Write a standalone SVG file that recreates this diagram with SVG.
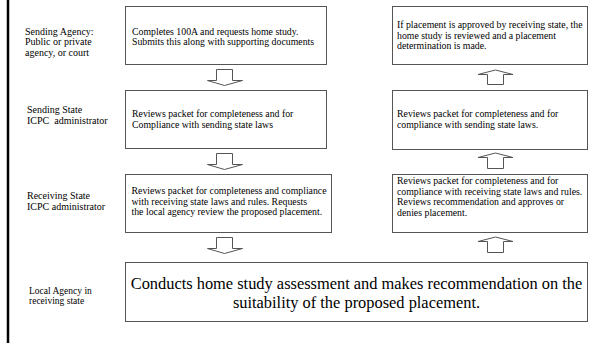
<svg xmlns="http://www.w3.org/2000/svg" width="591" height="343" viewBox="0 0 591 343">
<style>
.box{fill:#fff;stroke:#555;stroke-width:1}
.arr{fill:#fff;stroke:#555;stroke-width:1;stroke-linejoin:miter}
text{font-family:"Liberation Serif","Times New Roman",serif;fill:#000}
.t{font-size:9.8px}
.lb{font-size:10px}
.sm{font-size:9.5px}
.big{font-size:16.4px;text-anchor:middle}
</style>
<rect width="591" height="343" fill="#fff"/>
<line x1="8" y1="0" x2="8" y2="343" stroke="#000" stroke-width="2.5"/>

<g id="labels">
  <text class="lb" x="25" y="34.5">Sending Agency:</text>
  <text class="lb" x="25" y="45">Public or private</text>
  <text class="lb" x="25" y="55.5">agency, or court</text>
  <text class="lb" x="27" y="113">Sending State</text>
  <text class="lb" x="27" y="124" xml:space="preserve">ICPC  administrator</text>
  <text class="lb" x="27" y="199">Receiving State</text>
  <text class="lb" x="27" y="209.5">ICPC administrator</text>
  <text class="sm" x="29" y="293.5">Local Agency in</text>
  <text class="sm" x="29" y="303.5">receiving state</text>
</g>

<g id="n1">
  <rect class="box" x="125.5" y="6.5" width="201" height="58"/>
  <text class="t" x="132" y="34.5">Completes 100A and requests home study.</text>
  <text class="t" x="132" y="45">Submits this along with supporting documents</text>
</g>
<g id="n2">
  <rect class="box" x="125.5" y="90.5" width="201" height="58"/>
  <text class="t" x="132" y="117">Reviews packet for completeness and for</text>
  <text class="t" x="132" y="127.5">Compliance with sending state laws</text>
</g>
<g id="n3">
  <rect class="box" x="125.5" y="174.5" width="206" height="58"/>
  <text class="t" x="131.5" y="194">Reviews packet for completeness and compliance</text>
  <text class="t" x="131.5" y="204.5">with receiving state laws and rules. Requests</text>
  <text class="t" x="131.5" y="215">the local agency review the proposed placement.</text>
</g>
<g id="n4">
  <rect class="box" x="125.5" y="262.5" width="462" height="59"/>
  <text class="big" x="356.5" y="289">Conducts home study assessment and makes recommendation on the</text>
  <text class="big" x="356.5" y="308">suitability of the proposed placement.</text>
</g>
<g id="n5">
  <rect class="box" x="392.5" y="174.5" width="195" height="58"/>
  <text class="t" x="397" y="184">Reviews packet for completeness and for</text>
  <text class="t" x="397" y="194.5">compliance with receiving state laws and rules.</text>
  <text class="t" x="397" y="205">Reviews recommendation and approves or</text>
  <text class="t" x="397" y="215.5">denies placement.</text>
</g>
<g id="n6">
  <rect class="box" x="392.5" y="90.5" width="195" height="59"/>
  <text class="t" x="397" y="117">Reviews packet for completeness and for</text>
  <text class="t" x="397" y="127.5">compliance with sending state laws.</text>
</g>
<g id="n7">
  <rect class="box" x="392.5" y="6.5" width="195" height="58"/>
  <text class="t" x="397" y="28">If placement is approved by receiving state, the</text>
  <text class="t" x="397" y="38.5">home study is reviewed and a placement</text>
  <text class="t" x="397" y="49">determination is made.</text>
</g>

<g id="connectors">
  <polygon class="arr" points="216.5,69.5 232.5,69.5 232.5,80.5 242.5,80.5 224.5,85.5 207.5,80.5 216.5,80.5"/>
  <polygon class="arr" points="216.5,153.5 232.5,153.5 232.5,164.5 242.5,164.5 224.5,169.5 207.5,164.5 216.5,164.5"/>
  <polygon class="arr" points="216.5,237.5 232.5,237.5 232.5,248.5 242.5,248.5 224.5,253.5 207.5,248.5 216.5,248.5"/>
  <polygon class="arr" points="495.5,70 513,74.5 503.5,74.5 503.5,84.5 487.5,84.5 487.5,74.5 478,74.5"/>
  <polygon class="arr" points="495.5,153 513,157.5 503.5,157.5 503.5,168.5 487.5,168.5 487.5,157.5 478,157.5"/>
  <polygon class="arr" points="495.5,237 513,241.5 503.5,241.5 503.5,252.5 487.5,252.5 487.5,241.5 478,241.5"/>
</g>
</svg>
